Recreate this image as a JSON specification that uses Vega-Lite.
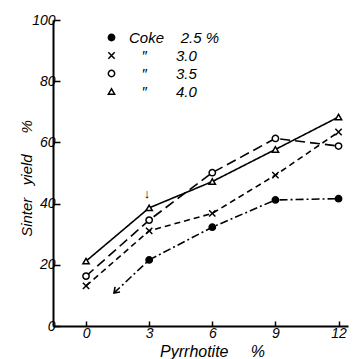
{
  "$schema": "https://vega.github.io/schema/vega-lite/v6.json",
  "width": 295,
  "height": 306,
  "autosize": "none",
  "padding": {"left": 53, "top": 20, "right": 11, "bottom": 33},
  "background": "white",
  "config": {
    "view": {"stroke": null},
    "font": "Liberation Sans",
    "axis": {
      "domainColor": "black",
      "domainWidth": 2,
      "tickColor": "black",
      "tickWidth": 1.5,
      "grid": false,
      "labelColor": "black",
      "labelFont": "Liberation Sans",
      "labelFontStyle": "italic",
      "labelFontSize": 14,
      "titleFont": "Liberation Sans",
      "titleFontStyle": "italic",
      "titleFontWeight": "normal",
      "titleFontSize": 15,
      "titleColor": "black"
    }
  },
  "datasets": {
    "main": [
      {"coke": "2.5", "pyrrhotite": 3, "yield": 21.6},
      {"coke": "2.5", "pyrrhotite": 6, "yield": 32.3},
      {"coke": "2.5", "pyrrhotite": 9, "yield": 41.2},
      {"coke": "2.5", "pyrrhotite": 12, "yield": 41.6},
      {"coke": "3.0", "pyrrhotite": 0, "yield": 13.1},
      {"coke": "3.0", "pyrrhotite": 3, "yield": 31.1},
      {"coke": "3.0", "pyrrhotite": 6, "yield": 36.8},
      {"coke": "3.0", "pyrrhotite": 9, "yield": 49.3},
      {"coke": "3.0", "pyrrhotite": 12, "yield": 63.4},
      {"coke": "3.5", "pyrrhotite": 0, "yield": 16.3},
      {"coke": "3.5", "pyrrhotite": 3, "yield": 34.6},
      {"coke": "3.5", "pyrrhotite": 6, "yield": 50.1},
      {"coke": "3.5", "pyrrhotite": 9, "yield": 61.3},
      {"coke": "3.5", "pyrrhotite": 12, "yield": 58.8},
      {"coke": "4.0", "pyrrhotite": 0, "yield": 21.2},
      {"coke": "4.0", "pyrrhotite": 3, "yield": 38.6},
      {"coke": "4.0", "pyrrhotite": 6, "yield": 47.2},
      {"coke": "4.0", "pyrrhotite": 9, "yield": 57.7},
      {"coke": "4.0", "pyrrhotite": 12, "yield": 68.3}
    ],
    "arrow": [
      {"pyrrhotite": 3, "yield": 21.6},
      {"pyrrhotite": 1.33, "yield": 10.8}
    ],
    "arrowhead": [
      {"pyrrhotite": 1.33, "yield": 10.8}
    ],
    "note": [
      {"pyrrhotite": 2.9, "yield": 43, "text": "↓"}
    ]
  },
  "layer": [
    {
      "data": {"name": "main"},
      "mark": {"type": "line", "color": "black", "strokeWidth": 1.6},
      "encoding": {
        "x": {"field": "pyrrhotite", "type": "quantitative", "scale": {"domain": [-1.57, 12.45], "nice": false, "zero": false},
          "axis": {"values": [0, 3, 6, 9, 12], "title": "Pyrrhotite\u00a0\u00a0\u00a0\u00a0\u00a0%", "labelPadding": 5, "tickSize": -5,
            "titleFontSize": 16, "titleX": 159, "titleY": 30, "titleAlign": "center", "titleBaseline": "alphabetic"}},
        "y": {"field": "yield", "type": "quantitative", "scale": {"domain": [0, 100], "nice": false},
          "axis": {"values": [0, 20, 40, 60, 80, 100], "title": "Sinter\u00a0\u00a0\u00a0yield\u00a0\u00a0\u00a0\u00a0\u00a0%", "labelPadding": 5, "tickSize": -7,
            "titleX": -22, "titleY": 158, "titleAlign": "center", "titleBaseline": "alphabetic", "titleAngle": -90}},
        "detail": {"field": "coke", "type": "nominal"},
        "strokeDash": {"field": "coke", "type": "nominal",
          "scale": {"domain": ["4.0", "3.5", "3.0", "2.5"], "range": [[1, 0], [10, 5], [6, 4], [8, 3, 2, 3]]},
          "legend": null}
      }
    },
    {
      "data": {"name": "arrow"},
      "mark": {"type": "line", "color": "black", "strokeWidth": 1.6, "strokeDash": [8, 3, 2, 3]},
      "encoding": {
        "x": {"field": "pyrrhotite", "type": "quantitative"},
        "y": {"field": "yield", "type": "quantitative"}
      }
    },
    {
      "data": {"name": "arrowhead"},
      "mark": {"type": "point", "shape": "M-1,1.4L0,0L1,1.4", "filled": false, "stroke": "black", "strokeWidth": 1.6, "size": 50, "angle": 225, "opacity": 1},
      "encoding": {
        "x": {"field": "pyrrhotite", "type": "quantitative"},
        "y": {"field": "yield", "type": "quantitative"}
      }
    },
    {
      "data": {"name": "note"},
      "mark": {"type": "text", "font": "Liberation Sans", "fontSize": 13, "fill": "black"},
      "encoding": {
        "x": {"field": "pyrrhotite", "type": "quantitative"},
        "y": {"field": "yield", "type": "quantitative"},
        "text": {"field": "text", "type": "nominal"}
      }
    },
    {
      "data": {"name": "main"},
      "mark": {"type": "point", "strokeWidth": 1.5, "size": 40, "opacity": 1},
      "encoding": {
        "x": {"field": "pyrrhotite", "type": "quantitative"},
        "y": {"field": "yield", "type": "quantitative"},
        "shape": {"field": "coke", "type": "nominal",
          "scale": {"domain": ["2.5", "3.0", "3.5", "4.0"], "range": ["circle", "M-1,-1L1,1M-1,1L1,-1", "circle", "triangle-up"]},
          "legend": {"orient": "none", "legendX": 51, "legendY": 10, "title": null,
            "labelFont": "Liberation Sans", "labelFontStyle": "italic", "labelFontSize": 15, "labelColor": "black",
            "rowPadding": 2, "symbolSize": 40, "symbolStrokeWidth": 1.5, "labelOffset": 10,
            "labelExpr": "datum.label == '2.5' ? 'Coke\u00a0\u00a0\u00a0\u00a02.5\u00a0%' : '\u200b\u00a0\u00a0\u00a0″\u00a0\u00a0\u00a0\u00a0\u00a0\u00a0\u00a0' + datum.label"}},
        "fill": {"field": "coke", "type": "nominal",
          "scale": {"domain": ["2.5", "3.0", "3.5", "4.0"], "range": ["black", "white", "white", "white"]},
          "legend": {"orient": "none", "legendX": 51, "legendY": 10, "title": null,
            "labelFont": "Liberation Sans", "labelFontStyle": "italic", "labelFontSize": 15, "labelColor": "black",
            "rowPadding": 2, "symbolSize": 40, "symbolStrokeWidth": 1.5, "labelOffset": 10,
            "labelExpr": "datum.label == '2.5' ? 'Coke\u00a0\u00a0\u00a0\u00a02.5\u00a0%' : '\u200b\u00a0\u00a0\u00a0″\u00a0\u00a0\u00a0\u00a0\u00a0\u00a0\u00a0' + datum.label"}},
        "stroke": {"field": "coke", "type": "nominal",
          "scale": {"domain": ["2.5", "3.0", "3.5", "4.0"], "range": ["black", "black", "black", "black"]},
          "legend": {"orient": "none", "legendX": 51, "legendY": 10, "title": null,
            "labelFont": "Liberation Sans", "labelFontStyle": "italic", "labelFontSize": 15, "labelColor": "black",
            "rowPadding": 2, "symbolSize": 40, "symbolStrokeWidth": 1.5, "labelOffset": 10,
            "labelExpr": "datum.label == '2.5' ? 'Coke\u00a0\u00a0\u00a0\u00a02.5\u00a0%' : '\u200b\u00a0\u00a0\u00a0″\u00a0\u00a0\u00a0\u00a0\u00a0\u00a0\u00a0' + datum.label"}}
      }
    }
  ]
}
